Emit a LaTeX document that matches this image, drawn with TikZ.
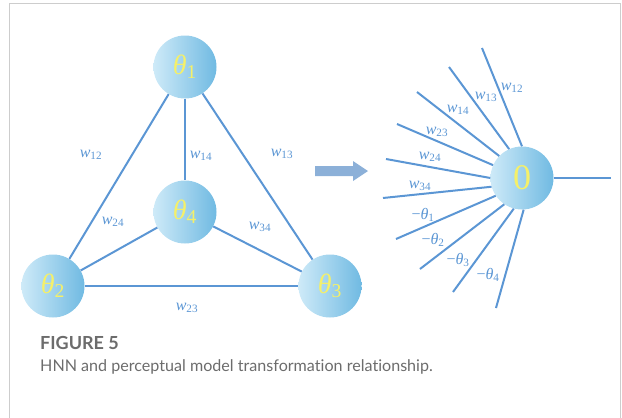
\documentclass[tikz,border=0pt]{standalone}
\usepackage{fontspec}
\setmainfont{Liberation Serif}
\newfontfamily\capfont[Ligatures=NoCommon]{Lato}
\usetikzlibrary{positioning,arrows.meta}
\definecolor{lineBlue}{RGB}{91,150,212}
\definecolor{ballL}{RGB}{206,234,248}
\definecolor{ballR}{RGB}{112,186,226}
\definecolor{thYellow}{RGB}{245,240,105}
\definecolor{arrowGray}{RGB}{140,176,216}
\definecolor{frameGray}{RGB}{205,205,205}
\definecolor{capGray}{RGB}{108,108,108}

\newcommand{\wlab}[1]{\textit{w}\textsubscript{#1}}
\newcommand{\thlab}[1]{\textit{θ}\textsubscript{#1}}

\begin{document}
\begin{tikzpicture}[x=1pt, y=-1pt,
    ball/.style={circle, minimum size=63pt, inner sep=0pt, left color=ballL,
                 right color=ballR, text=thYellow, font=\fontsize{28}{28}\selectfont},
    link/.style={draw=lineBlue, line width=2pt},
    wt/.style={text=lineBlue, font=\fontsize{16}{16}\selectfont, inner sep=1pt}
  ]
  \useasboundingbox (0,0) rectangle (622,418);
  \draw[frameGray, line width=1pt] (9,418) -- (9,3) -- (620.5,3) -- (620.5,418);

  % Hopfield net, four neurons
  \node[ball] (t1) at (185,67) {\thlab{1}};
  \node[ball] (t4) at (185,212) {\thlab{4}};
  \node[ball] (t2) at (53,286) {\thlab{2}};
  \node[ball] (t3) at (330,286) {\thlab{3}};
  \draw[link] (t1) -- (t2);
  \draw[link] (t1) -- (t3);
  \draw[link] (t1) -- (t4);
  \draw[link] (t2) -- (t3);
  \draw[link] (t2) -- (t4);
  \draw[link] (t4) -- (t3);
  \node[wt] (w12) at (91,155) {\wlab{12}};
  \node[wt] (w14) at (201,156) {\wlab{14}};
  \node[wt] (w13) at (282,154) {\wlab{13}};
  \node[wt] (w24) at (113,222) {\wlab{24}};
  \node[wt] (w34) at (260,227) {\wlab{34}};
  \node[wt] (w23) at (187,308) {\wlab{23}};

  % transform arrow
  \fill[arrowGray] (315,166) -- (353,166) -- (353,161) -- (368,171)
    -- (353,181) -- (353,176) -- (315,176) -- cycle;

  % perceptron with threshold 0
  \node[ball, font=\fontsize{36}{36}\selectfont] (zero) at (522,178) {0};
  \coordinate (out) at (611,178);
  \draw[link] (zero) -- (out);
  \foreach \x/\y/\a/\lab/\lx/\ly [count=\i] in {
      482/48/90/\wlab{12}/512/88, 449/67/114/\wlab{13}/486/97,
      417/92/136/\wlab{14}/458/110, 397/124/156/\wlab{23}/437/132,
      386/159/180/\wlab{24}/430/157, 383/198/196/\wlab{34}/420/186,
      396/239/214/−\thlab{1}/423/215, 420/269/236/−\thlab{2}/433/240,
      453/292/255/−\thlab{3}/458/260, 496/308/273/−\thlab{4}/488/275} {
    \coordinate (in\i) at (\x,\y);
    \draw[link] (in\i) -- (zero.\a);
    \node[wt] (lab\i) at (\lx,\ly) {\lab};
  }

  % caption
  \node[anchor=base west, inner sep=0pt, text=capGray,
        font=\capfont\bfseries\fontsize{18}{18}\selectfont] (figno) at (40,349) {FIGURE 5};
  \node[anchor=base west, inner sep=0pt, text=capGray,
        font=\capfont\fontsize{16.1}{16}\selectfont] (figcap) at (40,371)
        {HNN and perceptual model transformation relationship.};
\end{tikzpicture}
\end{document}
